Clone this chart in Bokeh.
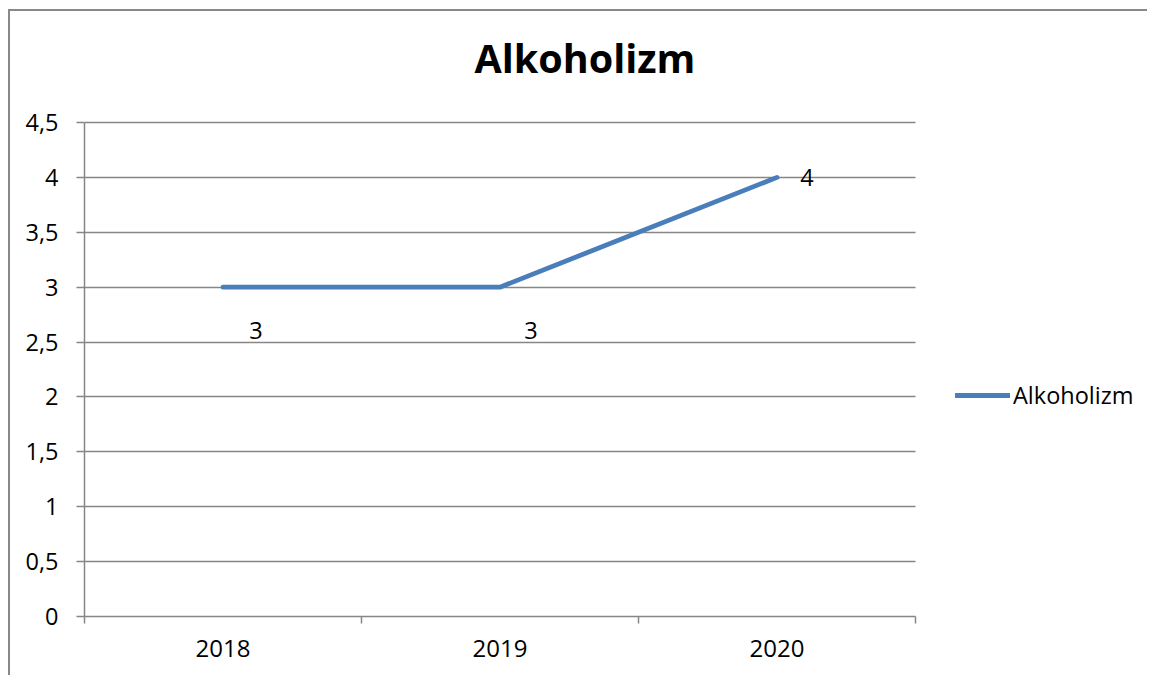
from bokeh.plotting import figure
from bokeh.models import Range1d, FixedTicker, Legend, LegendItem, Title, ColumnDataSource
from bokeh.core.properties import value
from bokeh.embed import file_html
from bokeh.resources import INLINE

# ---- data ----
title_text = "Alkoholizm"
series_name = "Alkoholizm"
years = ["2018", "2019", "2020"]
values = [3, 3, 4]
y_ticks = [0, 0.5, 1, 1.5, 2, 2.5, 3, 3.5, 4, 4.5]

# ---- styles ----
FONT = "Open Sans"
GRAY = "#868686"
BLUE = "#4A7EBB"
label_dx = [33, 31, 30]
label_dy = [43, 43, 0]
FIG_W, FIG_H = 1139, 666
BORDER_L, BORDER_R = 74, 13
BORDER_T, BORDER_B = 73, 61
PLOT_W, PLOT_H = 831, 494     # size of the gridded plot area
FRAME_W = FIG_W - BORDER_L - BORDER_R
FRAME_H = FIG_H - BORDER_T - BORDER_B

n = len(years)
y_max = y_ticks[-1]
xs = [i + 0.5 for i in range(n)]
x_end = n * FRAME_W / PLOT_W       # extra room on the right for the legend
y_end = y_max * FRAME_H / PLOT_H   # extra room on top for the title

p = figure(width=FIG_W, height=FIG_H, output_backend="svg", toolbar_location=None,
           x_range=Range1d(0, x_end), y_range=Range1d(0, y_end),
           min_border_left=BORDER_L, min_border_right=BORDER_R,
           min_border_top=BORDER_T, min_border_bottom=BORDER_B)
p.styles = {"margin-left": "8px", "margin-top": "9px",
            "border-left": "2px solid #898989", "border-top": "2px solid #898989"}
p.outline_line_color = None
p.background_fill_color = "white"
p.border_fill_color = "white"

# title
t = Title(text=title_text, align="left", offset=390, text_font=FONT, text_font_size="39.5px",
          text_font_style="bold", text_color="black", standoff=0, vertical_align="bottom")
p.add_layout(t, "above")

# x axis
xa = p.xaxis[0]
xa.bounds = (0, n)
xa.ticker = FixedTicker(ticks=xs, minor_ticks=list(range(n + 1)))
xa.major_label_overrides = {x: y for x, y in zip(xs, years)}
xa.major_tick_out = 0
xa.major_tick_in = 0
xa.minor_tick_out = 7
xa.minor_tick_in = 0
xa.minor_tick_line_color = GRAY
xa.minor_tick_line_width = 1.5
xa.axis_line_color = GRAY
xa.axis_line_width = 1.5
xa.major_label_text_font = FONT
xa.major_label_text_font_size = "24px"
xa.major_label_text_color = "black"
xa.major_label_standoff = 16

# y axis
ya = p.yaxis[0]
ya.bounds = (0, y_max)
ya.ticker = FixedTicker(ticks=y_ticks)
ya.major_label_overrides = {v: (str(v).replace(".", ",") if v != int(v) else str(int(v))) for v in y_ticks}
ya.major_tick_out = 8
ya.major_tick_in = 0
ya.major_tick_line_color = GRAY
ya.major_tick_line_width = 1.5
ya.minor_tick_line_color = None
ya.axis_line_color = GRAY
ya.axis_line_width = 1.5
ya.major_label_text_font = FONT
ya.major_label_text_font_size = "23.5px"
ya.major_label_text_color = "black"
ya.major_label_standoff = 18

p.xgrid.grid_line_color = None
p.ygrid.ticker = FixedTicker(ticks=y_ticks)
p.ygrid.bounds = (0, y_max)
p.ygrid.cross_bounds = (0, n)
p.ygrid.grid_line_color = GRAY
p.ygrid.grid_line_width = 1.5

src = ColumnDataSource(dict(x=xs, y=values, label=[str(v) for v in values], dx=label_dx, dy=label_dy))
r = p.line("x", "y", source=src, line_color=BLUE, line_width=4.8, line_cap="round", line_join="round")
p.text("x", "y", text="label", source=src, x_offset="dx", y_offset="dy",
       text_font=value(FONT), text_font_size="23.5px", text_color="black",
       text_align="center", text_baseline="middle")

legend = Legend(items=[LegendItem(label=series_name, renderers=[r])],
                location=(871, 205), orientation="vertical",
                glyph_width=55, glyph_height=30, label_height=30, label_standoff=3,
                padding=0, margin=0, border_line_color=None, background_fill_alpha=0,
                label_text_font=FONT, label_text_font_size="23.5px", label_text_color="black")
p.add_layout(legend, "center")

open("out.html", "w").write(file_html(p, INLINE))
